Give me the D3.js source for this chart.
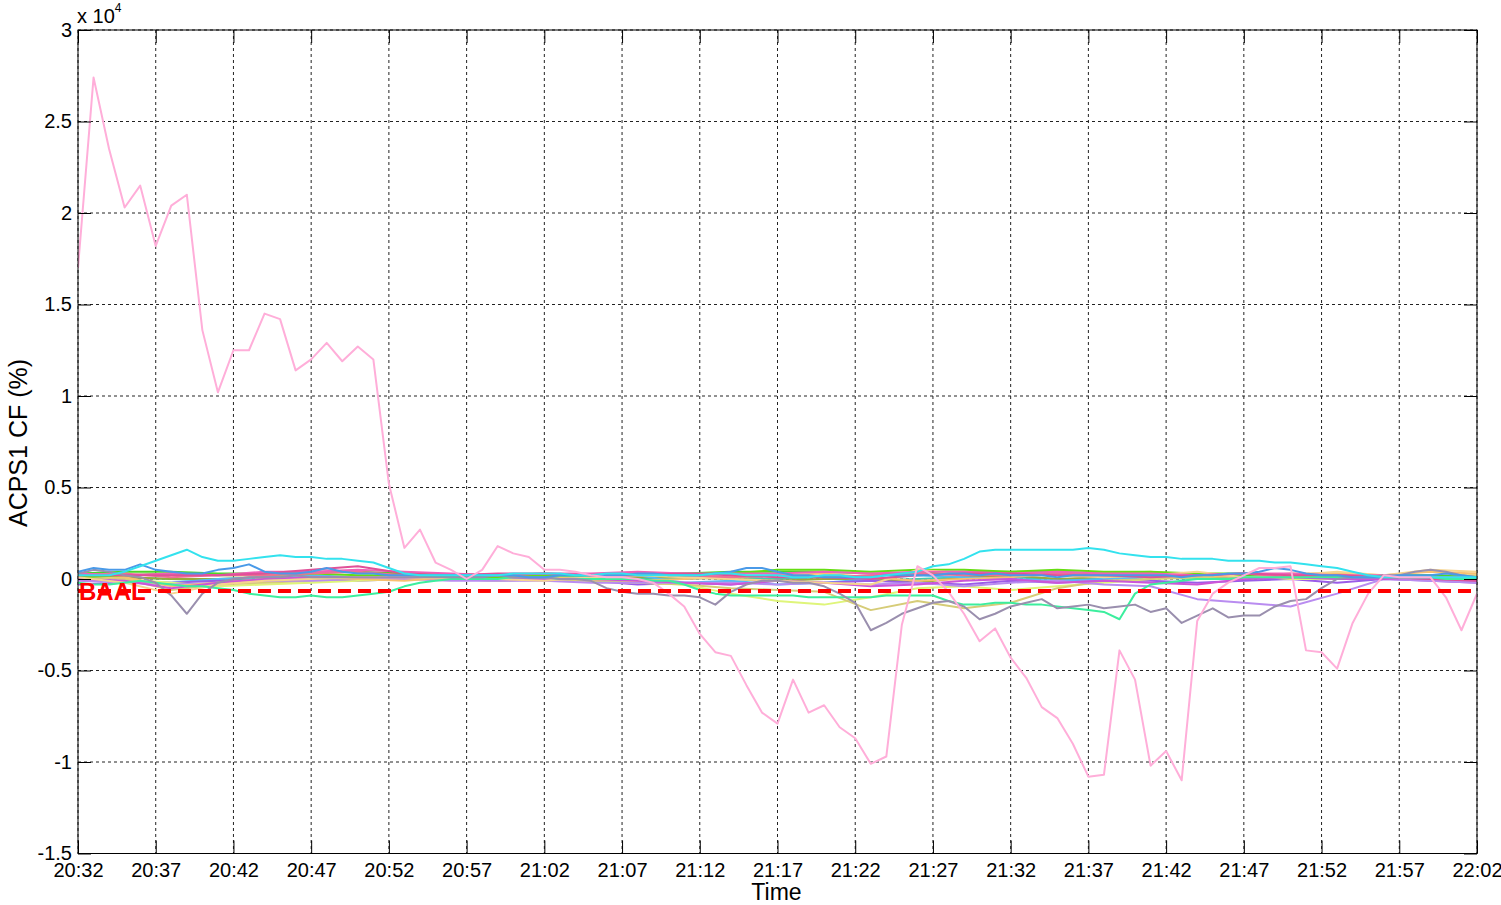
<!DOCTYPE html>
<meta charset="utf-8">
<style>
body { margin: 0; background: #fff; }
text { font-family: "Liberation Sans", Arial, Helvetica, sans-serif; fill: #000; }
.grid line { stroke: #222; stroke-width: 1; stroke-dasharray: 3,3; }
.axis line { stroke: #000; stroke-width: 1; }
.axis path { display: none; }
.axis text { font-size: 20px; }
.series { fill: none; stroke-width: 2; stroke-linejoin: round; }
</style>
<body>
<script src="https://d3js.org/d3.v7.min.js"></script>
<script>

// sample times, in minutes after 20:32
var minutesFine = d3.range(0, 91);       // 1 minute samples
var minutesCoarse = d3.range(0, 91, 3);  // 3 minute samples

// x ticks every 5 minutes, y ticks in units of 10^4 %
var xTickMinutes = [0, 5, 10, 15, 20, 25, 30, 35, 40, 45, 50, 55, 60, 65, 70, 75, 80, 85, 90];
var yTickValues = [-1.5, -1, -0.5, 0, 0.5, 1, 1.5, 2, 2.5, 3];
var baalLevel = -0.066;

// ACPS1 CF values (x 10^4 %)
var pinkCF = [1.70,2.74,2.35,2.03,2.15,1.82,2.04,2.10,1.36,1.02,
  1.25,1.25,1.45,1.42,1.14,1.20,1.29,1.19,1.27,1.20,
  0.52,0.17,0.27,0.09,0.05,0.00,0.05,0.18,0.14,0.12,
  0.05,0.05,0.04,0.02,0.01,0.01,0.00,-0.02,-0.08,-0.15,
  -0.30,-0.40,-0.42,-0.58,-0.73,-0.79,-0.55,-0.73,-0.69,-0.81,
  -0.87,-1.01,-0.97,-0.25,0.07,0.02,-0.07,-0.19,-0.34,-0.27,
  -0.43,-0.54,-0.70,-0.76,-0.90,-1.08,-1.07,-0.39,-0.55,-1.02,
  -0.94,-1.10,-0.23,-0.08,-0.02,0.02,0.06,0.06,0.07,-0.39,
  -0.40,-0.49,-0.24,-0.08,0.02,0.01,0.01,0.01,-0.10,-0.28,
  -0.08];
var cyanCF = [0.02,0.02,0.02,0.04,0.07,0.10,0.13,0.16,0.12,0.10,
  0.10,0.11,0.12,0.13,0.12,0.12,0.11,0.11,0.10,0.09,
  0.06,0.03,0.02,0.02,0.02,0.02,0.02,0.02,0.03,0.03,
  0.03,0.03,0.02,0.02,0.03,0.03,0.02,0.02,0.02,0.02,
  0.02,0.03,0.03,0.02,0.02,0.02,0.01,0.01,0.02,0.02,
  0.01,0.01,0.02,0.03,0.04,0.07,0.08,0.11,0.15,0.16,
  0.16,0.16,0.16,0.16,0.16,0.17,0.16,0.14,0.13,0.12,
  0.12,0.11,0.11,0.11,0.10,0.10,0.10,0.09,0.09,0.08,
  0.07,0.06,0.04,0.02,0.01,0.01,0.01,0.01,0.01,0.01,
  0.01];
var blueCF = [0.04,0.06,0.05,0.05,0.08,0.05,0.04,0.03,0.03,0.05,
  0.06,0.08,0.04,0.03,0.03,0.04,0.06,0.04,0.03,0.03,
  0.02,0.02,0.02,0.02,0.02,0.02,0.02,0.02,0.02,0.01,
  0.01,0.02,0.02,0.02,0.02,0.02,0.03,0.03,0.02,0.02,
  0.02,0.03,0.04,0.06,0.06,0.04,0.02,0.02,0.01,0.01,
  0.01,0.01,0.02,0.02,0.02,0.02,0.03,0.03,0.02,0.03,
  0.02,0.02,0.02,0.01,0.02,0.02,0.02,0.02,0.02,0.02,
  0.02,0.01,0.02,0.02,0.03,0.03,0.04,0.06,0.05,0.03,
  0.02,0.02,0.01,0.01,0.01,0.02,0.02,0.02,0.03,0.02,
  0.01];
var greyCF = [0.03,0.05,0.04,0.02,0.01,-0.02,-0.09,-0.19,-0.08,-0.02,
  0.00,0.01,0.01,0.01,0.02,0.01,0.01,0.01,0.01,0.01,
  0.01,0.01,0.01,0.01,0.01,0.01,0.01,0.02,0.01,0.01,
  0.01,0.00,0.00,-0.01,-0.05,-0.07,-0.08,-0.08,-0.09,-0.09,
  -0.10,-0.14,-0.07,-0.03,-0.01,-0.01,-0.02,-0.02,-0.04,-0.08,
  -0.13,-0.28,-0.24,-0.19,-0.16,-0.13,-0.12,-0.15,-0.22,-0.19,
  -0.15,-0.13,-0.11,-0.16,-0.15,-0.14,-0.16,-0.15,-0.14,-0.18,
  -0.16,-0.24,-0.20,-0.16,-0.21,-0.20,-0.20,-0.15,-0.12,-0.11,
  -0.05,0.00,0.01,0.01,0.02,0.02,0.04,0.05,0.04,0.02,
  0.01];
var mintCF = [-0.02,-0.03,-0.03,-0.02,-0.01,-0.02,-0.03,-0.04,-0.04,-0.05,
  -0.06,-0.08,-0.09,-0.10,-0.10,-0.09,-0.10,-0.10,-0.09,-0.08,
  -0.07,-0.04,-0.02,-0.01,0.00,0.00,0.00,0.00,0.01,0.01,
  0.01,0.00,0.00,0.00,0.00,0.00,0.00,-0.01,-0.01,-0.03,
  -0.06,-0.08,-0.09,-0.09,-0.09,-0.09,-0.09,-0.10,-0.10,-0.10,
  -0.10,-0.10,-0.09,-0.09,-0.09,-0.09,-0.12,-0.14,-0.14,-0.13,
  -0.13,-0.14,-0.14,-0.15,-0.16,-0.17,-0.18,-0.22,-0.08,-0.03,
  -0.02,-0.01,0.00,0.00,0.00,0.01,0.01,0.01,0.01,0.01,
  0.01,0.01,0.01,0.01,0.01,0.01,0.01,0.01,0.00,0.00,
  0.00];

var limeCF = [0.02,0.00,-0.02,-0.04,-0.03,-0.02,-0.01,0.00,0.00,-0.01,0.00,-0.01,-0.02,-0.03,-0.08,-0.12,-0.14,-0.10,-0.05,-0.04,-0.06,-0.04,-0.02,0.00,0.01,0.02,0.00,0.00,0.01,0.02,0.01];
var khakiCF = [0.01,0.00,-0.06,-0.03,-0.02,-0.01,0.00,0.00,0.01,0.00,0.00,-0.01,-0.02,-0.03,-0.05,-0.06,-0.07,-0.17,-0.12,-0.16,-0.13,-0.05,-0.01,0.00,0.01,0.02,0.02,0.01,0.00,0.02,0.02];
var lavenderCF = [-0.01,-0.02,-0.03,-0.02,-0.01,-0.01,0.00,0.00,-0.01,-0.01,-0.01,-0.02,-0.02,-0.02,-0.02,-0.03,-0.02,-0.03,-0.02,-0.04,-0.02,-0.01,-0.03,-0.04,-0.11,-0.13,-0.15,-0.08,0.00,-0.01,-0.02];
var magentaCF = [0.02,0.02,0.02,0.02,0.03,0.05,0.07,0.03,0.02,0.03,0.03,0.02,0.02,0.03,0.02,0.01,0.01,0.00,0.02,0.03,0.03,0.02,0.02,0.01,0.02,0.03,0.02,0.02,0.01,0.00,-0.01];
var orchidCF = [0.00,-0.01,-0.05,-0.02,0.00,0.01,0.01,0.01,0.00,0.00,0.00,0.00,-0.01,-0.02,-0.03,-0.01,-0.02,-0.04,-0.03,-0.01,0.00,-0.02,-0.01,-0.02,-0.03,0.00,0.01,0.00,0.00,0.01,-0.01];
var greenCF = [0.03,0.04,0.04,0.03,0.03,0.04,0.04,0.03,0.02,0.02,0.02,0.02,0.03,0.03,0.04,0.04,0.04,0.03,0.03,0.04,0.04,0.04,0.03,0.03,0.03,0.02,0.01,0.01,0.02,0.02,0.01];
var peachCF = [0.01,-0.02,-0.08,-0.03,-0.01,0.00,0.01,0.01,0.00,0.00,-0.01,0.01,0.02,0.01,0.00,-0.01,-0.02,-0.03,0.05,0.03,0.02,0.02,0.01,0.02,0.04,0.01,0.02,0.04,0.02,0.05,0.04];
var oliveCF = [0.01,0.01,0.00,0.00,0.01,0.01,0.00,0.00,0.01,0.01,0.00,0.00,0.01,0.01,0.00,-0.01,0.00,0.00,-0.02,0.01,0.02,0.00,0.01,0.02,0.01,0.00,0.01,0.01,0.00,0.01,0.00];
var violetCF = [-0.03,-0.02,-0.02,-0.01,-0.01,0.00,-0.01,0.00,0.00,-0.01,0.00,-0.01,-0.03,-0.02,-0.03,-0.01,-0.02,-0.01,-0.02,-0.03,-0.01,-0.02,-0.01,-0.01,-0.02,-0.01,0.00,-0.02,0.00,-0.01,-0.02];
var roseCF = [0.02,0.03,0.01,0.02,0.02,0.03,0.04,0.02,0.02,0.02,0.03,0.02,0.03,0.02,0.01,0.02,0.01,0.02,0.03,0.02,0.02,0.03,0.02,0.02,0.02,0.03,0.01,0.02,0.01,0.01,0.00];
var tealCF = [0.00,0.01,0.00,-0.01,0.00,0.01,0.01,0.00,0.01,0.00,0.01,0.01,0.00,0.00,0.01,0.00,0.01,-0.01,0.00,0.01,0.01,0.00,0.00,0.01,0.00,0.01,0.00,0.01,0.00,0.00,0.00];
var hotPinkCF = [0.03,0.02,0.03,0.02,0.04,0.04,0.05,0.04,0.03,0.02,0.03,0.03,0.04,0.03,0.03,0.03,0.04,0.03,0.04,0.04,0.03,0.04,0.03,0.03,0.02,0.03,0.03,0.02,0.02,0.01,0.01];
var leafCF = [0.01,0.02,0.03,0.02,0.02,0.03,0.02,0.02,0.01,0.01,0.02,0.02,0.02,0.02,0.03,0.05,0.05,0.04,0.05,0.05,0.04,0.05,0.04,0.04,0.03,0.03,0.02,0.02,0.01,0.01,0.00];
var orangeCF = [0.02,0.01,-0.04,-0.02,0.00,0.01,0.00,-0.01,0.01,0.02,0.01,0.00,-0.01,0.00,0.01,0.02,0.03,0.01,-0.01,0.00,0.01,0.03,0.03,0.04,0.02,0.01,0.03,0.03,0.02,0.04,0.03];
var skyCF = [0.00,-0.01,-0.02,0.00,0.01,0.02,0.01,0.00,0.01,0.01,0.00,0.01,0.02,-0.02,-0.01,-0.03,-0.02,0.00,0.02,0.01,0.00,-0.01,0.00,0.01,0.02,0.01,0.01,0.00,0.01,0.00,-0.01];

// draw order: bundle first, distinctive traces on top
var seriesList = [
  {values: tealCF,     minutes: minutesCoarse, color: "#44c9b0"},
  {values: oliveCF,    minutes: minutesCoarse, color: "#9aa83a"},
  {values: skyCF,      minutes: minutesCoarse, color: "#55bbf5"},
  {values: violetCF,   minutes: minutesCoarse, color: "#9a5ce8"},
  {values: limeCF,     minutes: minutesCoarse, color: "#dff57a"},
  {values: khakiCF,    minutes: minutesCoarse, color: "#d6cc78"},
  {values: lavenderCF, minutes: minutesCoarse, color: "#b98cf0"},
  {values: orangeCF,   minutes: minutesCoarse, color: "#f8c070"},
  {values: greenCF,    minutes: minutesCoarse, color: "#4ad626"},
  {values: leafCF,     minutes: minutesCoarse, color: "#66dd11"},
  {values: orchidCF,   minutes: minutesCoarse, color: "#cc55d8"},
  {values: peachCF,    minutes: minutesCoarse, color: "#f6d48e"},
  {values: roseCF,     minutes: minutesCoarse, color: "#ee6f95"},
  {values: hotPinkCF,  minutes: minutesCoarse, color: "#f060b8"},
  {values: magentaCF,  minutes: minutesCoarse, color: "#e05098"},
  {values: mintCF,     minutes: minutesFine,   color: "#3cee9e"},
  {values: greyCF,     minutes: minutesFine,   color: "#9a8fae"},
  {values: blueCF,     minutes: minutesFine,   color: "#4a9ae8"},
  {values: cyanCF,     minutes: minutesFine,   color: "#33e2ee"},
  {values: pinkCF,     minutes: minutesFine,   color: "#ffaed9"}
];

var t0 = new Date(2000, 0, 1, 20, 32);
function minuteToDate(m) { return d3.timeMinute.offset(t0, m); }

var margin = {top: 30, right: 24, bottom: 51.5, left: 78},
    width = 1501 - margin.left - margin.right,
    height = 905 - margin.top - margin.bottom;

var x = d3.scaleTime()
    .domain([minuteToDate(0), minuteToDate(90)])
    .range([0, width]);
var y = d3.scaleLinear()
    .domain([-1.5, 3])
    .range([height, 0]);

var svg = d3.select("body").append("svg")
    .attr("width", 1501)
    .attr("height", 905)
  .append("g")
    .attr("transform", "translate(" + margin.left + "," + margin.top + ")");

var xTicks = xTickMinutes.map(minuteToDate);

// dotted grid
var grid = svg.append("g").attr("class", "grid");
grid.selectAll(".vx").data(xTicks).enter().append("line")
    .attr("x1", function(d) { return x(d); })
    .attr("x2", function(d) { return x(d); })
    .attr("y1", 0).attr("y2", height);
grid.selectAll(".hy").data(yTickValues).enter().append("line")
    .attr("x1", 0).attr("x2", width)
    .attr("y1", function(d) { return y(d); })
    .attr("y2", function(d) { return y(d); });

svg.append("clipPath").attr("id", "plot-clip")
  .append("rect").attr("width", width).attr("height", height);

var line = d3.line()
    .x(function(d) { return x(d.t); })
    .y(function(d) { return y(d.v); });

svg.append("g").attr("clip-path", "url(#plot-clip)")
  .selectAll(".series")
    .data(seriesList)
  .enter().append("path")
    .attr("class", "series")
    .attr("stroke", function(s) { return s.color; })
    .attr("d", function(s) {
      return line(s.values.map(function(v, i) { return {t: minuteToDate(s.minutes[i]), v: v}; }));
    });

// BAAL threshold
svg.append("line")
    .attr("x1", 0).attr("x2", width)
    .attr("y1", y(baalLevel)).attr("y2", y(baalLevel))
    .attr("stroke", "#ff0000")
    .attr("stroke-width", 4)
    .attr("stroke-dasharray", "13,7");
svg.append("text")
    .attr("x", 1).attr("y", y(baalLevel) + 9)
    .style("font-size", "24px")
    .style("font-weight", "bold")
    .style("fill", "#ff0000")
    .text("BAAL");

// axes, ticks pointing inward
var timeFmt = d3.timeFormat("%H:%M");
svg.append("g").attr("class", "axis")
    .attr("transform", "translate(0," + height + ")")
    .call(d3.axisBottom(x).tickValues(xTicks).tickFormat(timeFmt)
      .tickSizeInner(-13).tickSizeOuter(0).tickPadding(9));
svg.append("g").attr("class", "axis")
    .call(d3.axisTop(x).tickValues(xTicks).tickFormat("")
      .tickSizeInner(-13).tickSizeOuter(0));
svg.append("g").attr("class", "axis")
    .call(d3.axisLeft(y).tickValues(yTickValues).tickFormat(function(d) { return String(d); })
      .tickSizeInner(-13).tickSizeOuter(0).tickPadding(6));
svg.append("g").attr("class", "axis")
    .attr("transform", "translate(" + width + ",0)")
    .call(d3.axisRight(y).tickValues(yTickValues).tickFormat("")
      .tickSizeInner(-13).tickSizeOuter(0));

svg.append("rect")
    .attr("width", width).attr("height", height)
    .attr("fill", "none").attr("stroke", "#000").attr("stroke-width", 1);

// exponent label
var expo = svg.append("text")
    .attr("x", -1).attr("y", -7)
    .style("font-size", "20px");
expo.append("tspan").text("x 10");
expo.append("tspan").attr("dy", -11).style("font-size", "12px").text("4");

// axis titles
svg.append("text")
    .attr("x", width / 2 - 1).attr("y", height + 46)
    .attr("text-anchor", "middle")
    .style("font-size", "23px")
    .text("Time");
svg.append("text")
    .attr("transform", "translate(" + (27 - margin.left) + "," + (443 - margin.top) + ") rotate(-90)")
    .attr("text-anchor", "middle")
    .style("font-size", "25px")
    .text("ACPS1 CF (%)");

</script>
</body>
